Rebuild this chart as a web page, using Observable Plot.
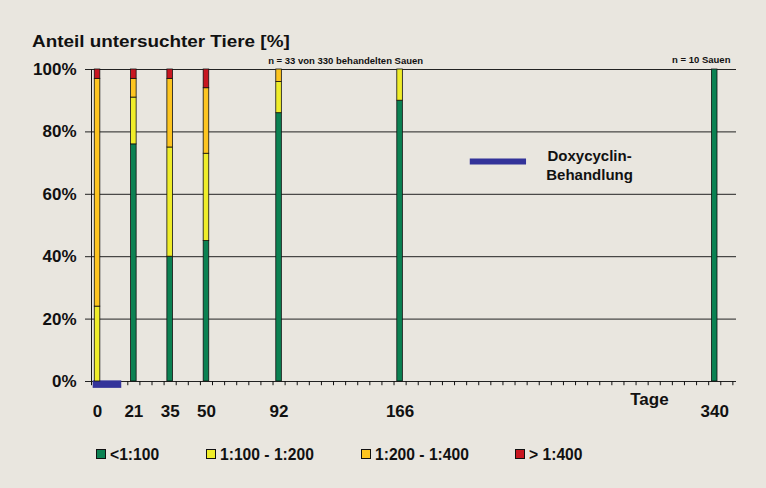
<!DOCTYPE html>
<html><head><meta charset="utf-8">
<script src="https://cdn.jsdelivr.net/npm/d3@7"></script>
<script src="https://cdn.jsdelivr.net/npm/@observablehq/plot@0.6"></script>
<style>
body{margin:0;background:#e9e6df;}
#wrap{position:relative;width:766px;height:488px;background:#e9e6df;font-family:"Liberation Sans",Arial,sans-serif;font-weight:bold;color:#111;overflow:hidden;display:flex;flex-direction:column}
#title{position:relative;height:50px;flex:none}
#title span{position:absolute;left:32px;top:33px;font-size:16px;line-height:normal;white-space:nowrap;transform:scaleX(1.18);transform-origin:left center}
#chart{height:380px;flex:none}
#chart svg{display:block;overflow:visible}
#legend{position:relative;height:58px;flex:none;font-size:17px;line-height:normal}
#legend .item{position:absolute;top:15px;display:flex;align-items:flex-start;white-space:nowrap}
#legend .sw{width:8px;height:8px;border:1px solid #111;margin-right:4px;margin-top:4px}
#legend .lab{display:inline-block;transform:scaleX(0.92);transform-origin:left center}
</style></head>
<body>
<div id="wrap">
  <div id="title"><span>Anteil untersuchter Tiere [%]</span></div>
  <div id="chart"></div>
  <div id="legend"></div>
</div>
<script>
// ---- data ----
const days   = [0, 21, 35, 50, 92, 166, 340];
const slots  = [0, 3, 6, 9, 15, 25, 51];          // category index on the Excel-style day axis
const green  = [0, 76, 40, 45, 86, 90, 100];      // <1:100
const yellow = [24, 15, 35, 28, 10, 10, 0];       // 1:100 - 1:200
const orange = [73, 6, 22, 21, 4, 0, 0];          // 1:200 - 1:400
const red    = [3, 3, 3, 6, 0, 0, 0];             // > 1:400
const categories = ["<1:100", "1:100 - 1:200", "1:200 - 1:400", "> 1:400"];
const colors = ["#0b8152", "#efed2a", "#fdc520", "#c81620"];
const yTicks = [0, 20, 40, 60, 80, 100];
const nSlots = 53;
const treatment = {label: ["Doxycyclin-", "Behandlung"], fromDay: 0, toDay: 14};
const noteCenter = {text: "n = 33 von 330 behandelten Sauen", slot: 21};
const noteRight  = {text: "n = 10 Sauen", slot: 52.8};

// layout (pixel offsets of the legend entries)
const legendLeft = [96, 206, 361, 515];

// ---- build table ----
const series = [green, yellow, orange, red];
const rows = [];
days.forEach((d, i) => {
  let acc = 0;
  series.forEach((s, k) => {
    const v = s[i];
    if (v > 0) rows.push({day: d, slot: slots[i], cat: categories[k], y1: acc, y2: acc + v});
    acc += v;
  });
});
const slotOf = d3.scaleLinear().domain(days).range(slots.map(s => s + 0.5));
const half = 0.23;
const bold = {fontWeight: "bold", fill: "#111"};

const plot = Plot.plot({
  width: 766, height: 380,
  marginLeft: 91, marginRight: 30, marginTop: 19, marginBottom: 49,
  style: {background: "transparent", fontFamily: "Liberation Sans, Arial, sans-serif", color: "#111", overflow: "visible"},
  x: {type: "linear", domain: [0, 53.3], axis: null},
  y: {domain: [0, 100], axis: null},
  color: {domain: categories, range: colors},
  marks: [
    Plot.ruleY(yTicks, {x1: 0, x2: 53.3, stroke: "#222", strokeWidth: 1}),
    Plot.axisY(yTicks, {tickSize: 6, tickPadding: 9, tickFormat: d => d + "%", fontSize: 17, fontWeight: "bold", label: null, stroke: "#222"}),
    Plot.ruleX([0], {y1: 0, y2: 100, stroke: "#111"}),
    Plot.ruleX(d3.range(0, nSlots + 1), {y1: 0, y2: -1.35, stroke: "#111"}),
    Plot.rect([treatment], {x1: d => slotOf(d.fromDay) - 0.36, x2: d => slotOf(d.toDay), y1: 0.2, y2: -2.2, fill: "#33339a"}),
    Plot.rect(rows, {x1: d => d.slot + 0.5 - half, x2: d => d.slot + 0.5 + half, y1: "y1", y2: "y2", fill: "cat", stroke: "#111", strokeWidth: 0.8}),
    Plot.text(days, {x: (d, i) => slots[i] + 0.5, y: 0, dy: 35, lineAnchor: "bottom", text: d => String(d), fontSize: 17, ...bold}),
    Plot.text(["Tage"], {x: 46.1, y: 0, dy: 23, lineAnchor: "bottom", fontSize: 17, ...bold}),
    Plot.text([noteCenter], {x: "slot", y: 100, dy: -6, lineAnchor: "bottom", text: "text", textAnchor: "middle", fontSize: 9.5, ...bold}),
    Plot.text([noteRight], {x: "slot", y: 100, dy: -7, lineAnchor: "bottom", text: "text", textAnchor: "end", fontSize: 9.5, ...bold}),
    Plot.ruleY([70.5], {x1: 31.3, x2: 35.95, stroke: "#33339a", strokeWidth: 6}),
    Plot.text([treatment.label.join("\n")], {x: 41.16, y: 64.7, lineAnchor: "bottom", lineHeight: 1.22, fontSize: 15, textAnchor: "middle", ...bold})
  ]
});
document.getElementById("chart").appendChild(plot);

const leg = document.getElementById("legend");
categories.forEach((c, k) => {
  const it = document.createElement("div"); it.className = "item"; it.style.left = legendLeft[k] + "px";
  const sw = document.createElement("div"); sw.className = "sw"; sw.style.background = colors[k];
  const t = document.createElement("span"); t.className = "lab"; t.textContent = c;
  it.appendChild(sw); it.appendChild(t); leg.appendChild(it);
});
</script>
</body></html>
